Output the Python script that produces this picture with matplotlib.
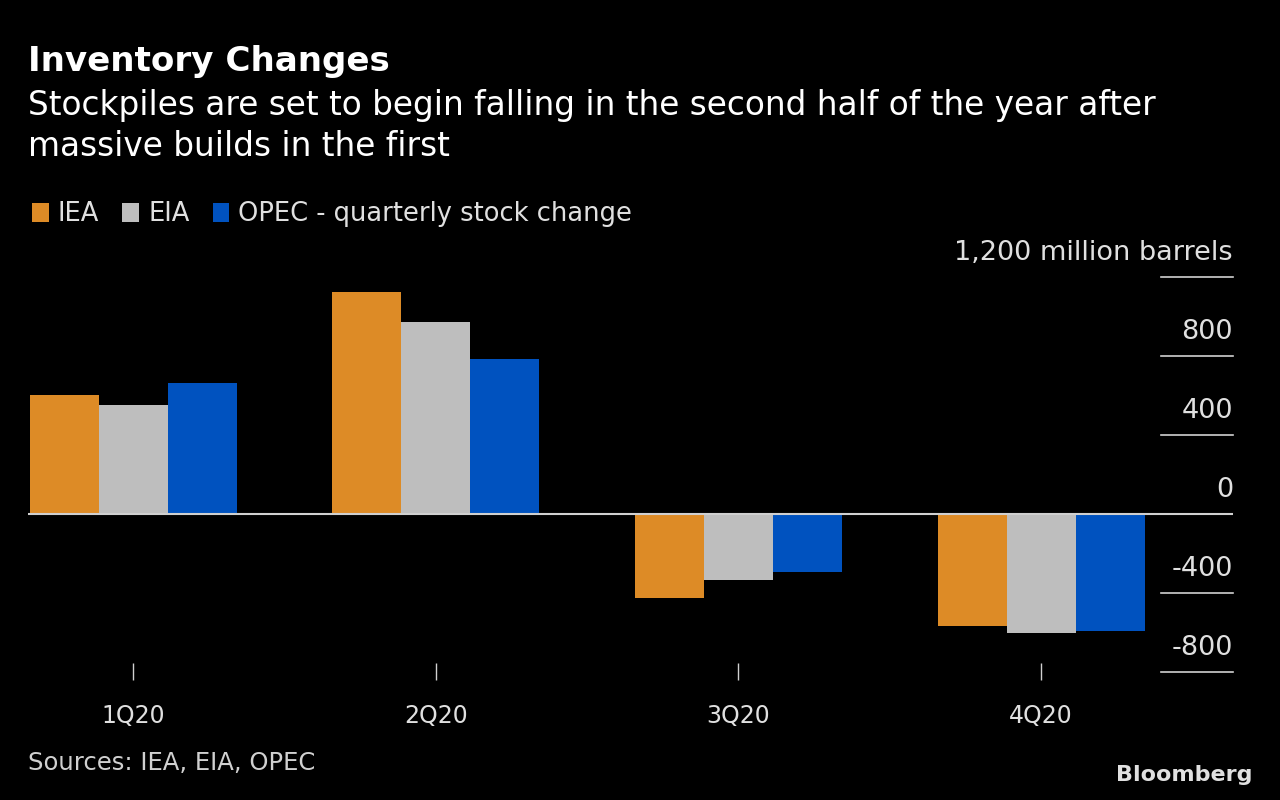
import numpy as np
from matplotlib import pyplot as plt
from matplotlib import transforms

# data (million barrels)
quarters = ['1Q20', '2Q20', '3Q20', '4Q20']
iea = [602, 1124, -425, -567]
eia = [552, 972, -334, -602]
opec = [663, 785, -294, -592]
series_names = ['IEA', 'EIA', 'OPEC - quarterly stock change']
colors = ['#DD8B26', '#BEBEBE', '#0052BF']

yticks = [1200, 800, 400, 0, -400, -800]
ytick_labels = ['1,200 million barrels', '800', '400', '0', '-400', '-800']

narrow = ['Liberation Sans Narrow', 'DejaVu Sans']

plt.rcParams['font.family'] = ['DejaVu Sans']
fig = plt.figure(figsize=(12.8, 8), dpi=100, facecolor='black')

# axes box: x from px 28 to 1233, y from px 262 to 680
ax = fig.add_axes([28/1280, 1 - 680/800, (1233 - 28)/1280, (680 - 262)/800])
ax.set_facecolor('black')

x = np.arange(len(quarters))
w = 0.228
for i, vals in enumerate([iea, eia, opec]):
    ax.bar(x + (i - 1) * w, vals, width=w, color=colors[i], label=series_names[i], zorder=2)

ax.set_xlim(-0.347, 3.634)
ax.set_ylim(-840, 1276)

for s in ax.spines.values():
    s.set_visible(False)

# zero line across the whole plot
ax.axhline(0, color='#D0D0D0', lw=1.5, zorder=3)

# short gridlines on the right with labels above them
trans = transforms.blended_transform_factory(ax.transAxes, ax.transData)
for v, lab in zip(yticks, ytick_labels):
    if v != 0:
        ax.plot([0.94, 1.0], [v, v], color='#D0D0D0', lw=1.2, transform=trans, clip_on=False)
    ax.text(1.0, v + 55, lab, transform=trans, ha='right', va='bottom', color='#E0E0E0',
            fontsize=19.5, family=narrow)

ax.set_yticks([])
ax.set_xticks(x)
ax.set_xticklabels(quarters, family=narrow, fontsize=17, color='#E0E0E0')
ax.tick_params(axis='x', direction='in', length=12, width=1, color='#D0D0D0', pad=17)

# legend
leg = fig.legend(loc='upper left', bbox_to_anchor=(22/1280, 1 - 191/800), ncol=3, frameon=False,
                 handlelength=0.65, handleheight=0.8, handletextpad=0.35, columnspacing=0.9,
                 prop={'family': narrow, 'size': 18.5}, borderaxespad=0)
for t in leg.get_texts():
    t.set_color('#E0E0E0')

# titles
fig.text(28/1280, 1 - 62/800, 'Inventory Changes', color='white', fontsize=24.6, fontweight='bold',
         va='center', ha='left')
fig.text(28/1280, 1 - 105/800, 'Stockpiles are set to begin falling in the second half of the year after',
         color='white', fontsize=23.6, va='center', ha='left')
fig.text(28/1280, 1 - 146/800, 'massive builds in the first', color='white', fontsize=23.6,
         va='center', ha='left')

# footer
fig.text(28/1280, 1 - 763/800, 'Sources: IEA, EIA, OPEC', color='#D0D0D0', fontsize=17.5,
         family=narrow, va='center', ha='left')
fig.text(1252/1280, 1 - 775/800, 'Bloomberg', color='#E0E0E0', fontsize=16, fontweight='bold',
         family=narrow, va='center', ha='right')

fig.savefig('out.png', dpi=100, facecolor='black')
